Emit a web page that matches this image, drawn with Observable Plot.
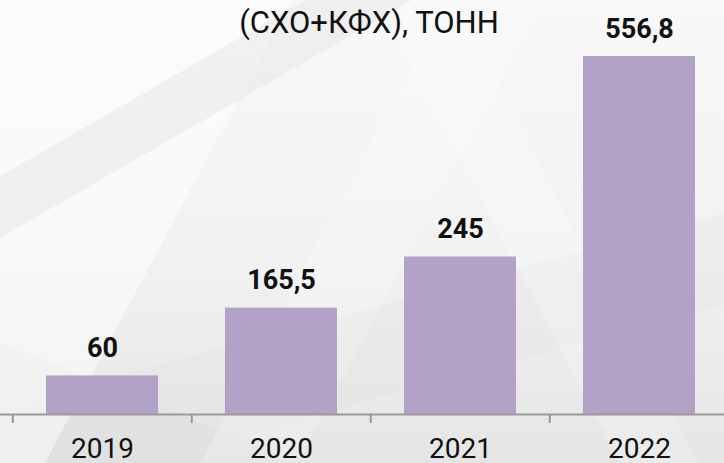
<!DOCTYPE html>
<html>
<head>
<meta charset="utf-8">
<script src="https://cdn.jsdelivr.net/npm/d3@7"></script>
<script src="https://cdn.jsdelivr.net/npm/@observablehq/plot@0.6"></script>
<style>
  html, body { margin: 0; padding: 0; }
  body {
    width: 724px; height: 463px; overflow: hidden; position: relative;
    font-family: Roboto, "Noto Sans", sans-serif;
    background-color: #f2f2f2;
    background-image:
      linear-gradient(150deg, transparent 0 20%, rgba(228,228,228,0.45) 20% 27%, transparent 27%),
      linear-gradient(62deg, transparent 0 64%, rgba(255,255,255,0.22) 64% 72%, transparent 72%),
      linear-gradient(118deg, rgba(255,255,255,0.5) 0 30%, transparent 30% 46%, rgba(255,255,255,0.2) 46% 56%, transparent 56%),
      linear-gradient(165deg, transparent 0 62%, rgba(224,224,224,0.3) 62% 76%, transparent 76%),
      linear-gradient(22deg, rgba(215,215,215,0.3) 0 16%, transparent 16%),
      linear-gradient(180deg, #f8f8f8 0%, #f2f2f2 55%, #e5e5e5 100%);
  }
  #title {
    position: absolute; left: 0; width: 738px; top: 4px;
    text-align: center; font-size: 31px; line-height: 38px; color: #111;
    pointer-events: none;
  }
  #chart { position: absolute; left: 0; top: 0; }
</style>
</head>
<body>
<div id="chart"></div>
<div id="title">(СХО+КФХ), ТОНН</div>
<script>
const years = ["2019", "2020", "2021", "2022"];
const values = [60, 165.5, 245, 556.8];
const valueLabels = ["60", "165,5", "245", "556,8"];

const data = years.map((year, i) => ({year, value: values[i], label: valueLabels[i]}));

const xRange = [11, 729];
const step = (xRange[1] - xRange[0]) / years.length;

const chart = Plot.plot({
  width: 724,
  height: 463,
  marginTop: 56,
  marginBottom: 49,
  marginLeft: 0,
  marginRight: 0,
  style: {background: "transparent", fontFamily: "Roboto, 'Noto Sans', sans-serif", overflow: "visible"},
  x: {domain: years, range: xRange, paddingInner: 0.376, paddingOuter: 0.188, label: null},
  y: {domain: [0, 556.8], axis: null},
  marks: [
    Plot.barY(data, {x: "year", y: "value", fill: "#b3a2c8"}),
    Plot.ruleY([0], {stroke: "#999", strokeWidth: 2}),
    Plot.axisX({tickSize: 9, tickFormat: () => "", dx: -step / 2, stroke: "#999", strokeWidth: 2, label: null}),
    Plot.axisX({tickSize: 0, tickPadding: 24, fontSize: 28, fill: "#111", tickFormat: d => d, label: null}),
    Plot.text(data, {x: "year", y: "value", text: "label", lineAnchor: "bottom", dy: -19,
      fontSize: 27, fontWeight: "bold", fill: "#111"})
  ]
});
document.getElementById("chart").appendChild(chart);
</script>
</body>
</html>
